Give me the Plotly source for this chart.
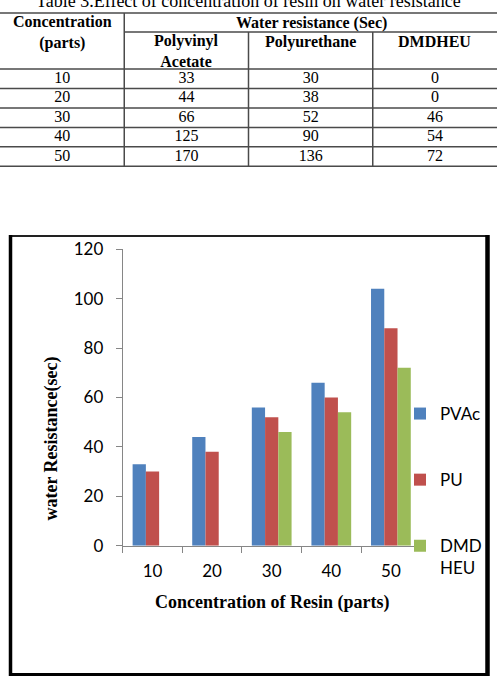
import plotly.graph_objects as go

W, H = 497, 679

# ---- data ----
concentration = ["10", "20", "30", "40", "50"]
table_pva = [33, 44, 66, 125, 170]
table_pu = [30, 38, 52, 90, 136]
table_dmd = [0, 0, 46, 54, 72]
table_columns = [concentration, table_pva, table_pu, table_dmd]
table_subheaders = ["Polyvinyl<br>Acetate", "Polyurethane", "DMDHEU"]

chart_pvac = [33, 44, 56, 66, 104]
chart_pu = [30, 38, 52, 60, 88]
chart_dmdheu = [0, 0, 46, 54, 72]

series_names = ["PVAc", "PU", "DMD<br>HEU"]
series_colors = ["#4F81BD", "#C0504D", "#9BBB59"]
y_ticks = [0, 20, 40, 60, 80, 100, 120]


def px(x):
    return x / W


def py(y):
    return 1 - y / H


# table row scale (pixel -> row units)
ROW_H = 19.46
ROW0_TOP = 69.0


def rv(p):
    return -0.5 + (p - ROW0_TOP) / ROW_H


TABLE_DOMAIN_PX = (0, 175)
serif = "Liberation Serif"

fig = go.Figure()

# ---- table cell values (text marks on a hidden table axis) ----
for ci, col in enumerate(table_columns):
    fig.add_trace(go.Scatter(
        x=[ci] * len(col), y=list(range(len(col))), text=[str(v) for v in col],
        mode="text", textposition="middle center",
        textfont=dict(family=serif, size=16, color="black"),
        xaxis="x2", yaxis="y2", showlegend=False, hoverinfo="skip",
    ))

# ---- bars ----
for name, vals, col in zip(series_names, [chart_pvac, chart_pu, chart_dmdheu], series_colors):
    fig.add_trace(go.Bar(
        x=concentration, y=vals, name=name, marker=dict(color=col, line=dict(width=0)),
        legendgroup=name, xaxis="x", yaxis="y",
    ))

shapes = []
grid = dict(color="#4a4a4a", width=1.5)
nrows = len(concentration)
ncols = len(table_columns)
# horizontal table lines
for hv in [rv(13)] + [r - 0.5 for r in range(nrows + 1)]:
    shapes.append(dict(type="line", xref="x2", yref="y2", x0=-0.5, x1=ncols - 0.5, y0=hv, y1=hv, line=grid))
shapes.append(dict(type="line", xref="x2", yref="y2", x0=0.5, x1=ncols - 0.5, y0=rv(32), y1=rv(32), line=grid))
# vertical table lines
shapes.append(dict(type="line", xref="x2", yref="y2", x0=0.5, x1=0.5, y0=rv(13), y1=nrows - 0.5, line=grid))
for c in range(1, ncols - 1):
    shapes.append(dict(type="line", xref="x2", yref="y2", x0=c + 0.5, x1=c + 0.5, y0=rv(32), y1=nrows - 0.5,
                       line=grid))

# chart frame
shapes.append(dict(type="line", xref="paper", yref="paper", x0=px(9), x1=px(489), y0=py(236), y1=py(236),
                   line=dict(color="#222222", width=2)))
shapes.append(dict(type="line", xref="paper", yref="paper", x0=px(10.5), x1=px(10.5), y0=py(235), y1=py(676),
                   line=dict(color="black", width=3.5)))
shapes.append(dict(type="line", xref="paper", yref="paper", x0=px(487.5), x1=px(487.5), y0=py(235), y1=py(676),
                   line=dict(color="black", width=4.5)))
shapes.append(dict(type="line", xref="paper", yref="paper", x0=px(9), x1=px(489), y0=py(674.5), y1=py(674.5),
                   line=dict(color="black", width=3)))

annotations = [
    dict(text="Table 3.Effect of concentration of resin on water resistance", x=px(249), y=py(1),
         xref="paper", yref="paper", showarrow=False, xanchor="center", yanchor="middle",
         font=dict(family=serif, size=18, color="black")),
    dict(text="<b>Concentration</b><br><b>(parts)</b>", x=0, y=rv(32.2),
         xref="x2", yref="y2", showarrow=False, xanchor="center", yanchor="middle",
         font=dict(family=serif, size=16, color="black")),
    dict(text="<b>Water resistance (Sec)</b>", x=px(311.7), y=py(22.7),
         xref="paper", yref="paper", showarrow=False, xanchor="center", yanchor="middle",
         font=dict(family=serif, size=16, color="black")),
    dict(text="<b>Concentration of Resin (parts)</b>", x=px(272), y=py(602),
         xref="paper", yref="paper", showarrow=False, xanchor="center", yanchor="middle",
         font=dict(family=serif, size=18, color="black")),
    dict(text="<b>water Resistance(sec)</b>", x=px(52), y=py(438.6), textangle=-90,
         xref="paper", yref="paper", showarrow=False, xanchor="center", yanchor="middle",
         font=dict(family=serif, size=18, color="black")),
]
for ci, sub in enumerate(table_subheaders, start=1):
    yc = rv(51.3) if "<br>" in sub else rv(41.7)
    annotations.append(dict(text="<b>" + sub.replace("<br>", "</b><br><b>") + "</b>", x=ci, y=yc,
                            xref="x2", yref="y2", showarrow=False, xanchor="center", yanchor="middle",
                            font=dict(family=serif, size=16, color="black")))

fig.update_layout(
    width=W, height=H,
    margin=dict(l=0, r=0, t=0, b=0, autoexpand=False),
    paper_bgcolor="white", plot_bgcolor="white",
    barmode="group", bargap=0.333, bargroupgap=0,
    shapes=shapes, annotations=annotations,
    legend=dict(x=px(400), y=py(396), xanchor="left", yanchor="top",
                font=dict(family="Lato", size=17, color="black"),
                traceorder="grouped", tracegroupgap=41, valign="top",
                bgcolor="rgba(0,0,0,0)"),
    xaxis=dict(domain=[px(122.7), px(420.7)], type="category", showline=True, linecolor="#868686",
               linewidth=1, ticks="outside", tickson="boundaries", ticklen=6, tickcolor="#868686",
               showgrid=False, zeroline=False, anchor="y",
               tickfont=dict(family="Lato", size=17, color="black"), ticklabelstandoff=10),
    yaxis=dict(domain=[py(545.7), py(249.3)], range=[0, 120], tickvals=y_ticks, showline=True,
               linecolor="#868686", linewidth=1, ticks="outside", ticklen=6, tickcolor="#868686",
               showgrid=False, zeroline=False, anchor="x",
               tickfont=dict(family="Lato", size=17, color="black"), ticklabelstandoff=9),
    xaxis2=dict(domain=[0, 1], range=[-0.5, ncols - 0.5], visible=False, anchor="y2", fixedrange=True),
    yaxis2=dict(domain=[py(TABLE_DOMAIN_PX[1]), py(TABLE_DOMAIN_PX[0])],
                range=[rv(TABLE_DOMAIN_PX[1]), rv(TABLE_DOMAIN_PX[0])], autorange=False,
                visible=False, anchor="x2", fixedrange=True),
)
fig.write_html("out.html")
